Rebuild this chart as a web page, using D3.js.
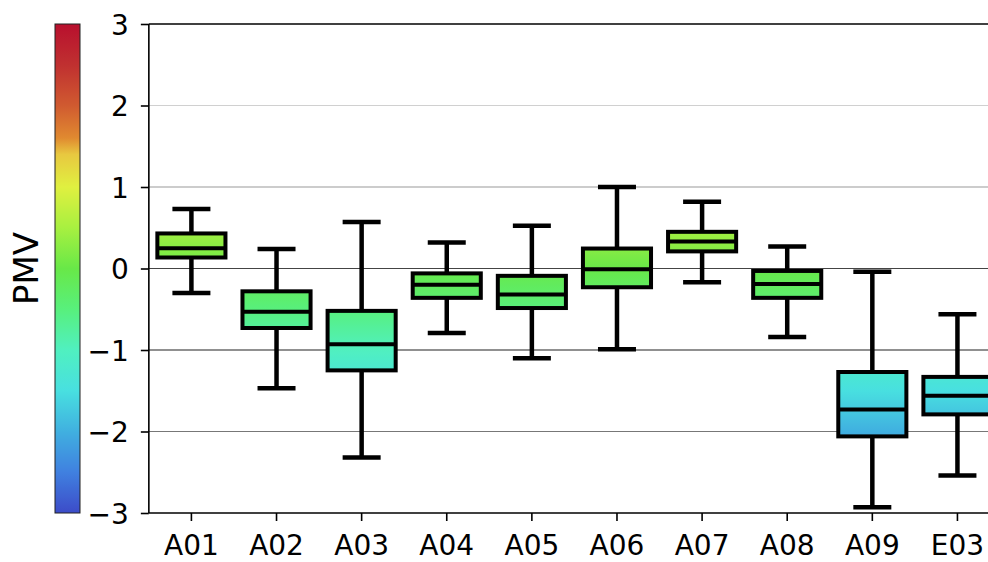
<!DOCTYPE html>
<html>
<head>
<meta charset="utf-8">
<script src="https://cdn.jsdelivr.net/npm/d3@7"></script>
<style>
body { margin: 0; background: #fff; }
text { font-family: "DejaVu Sans", sans-serif; }
</style>
</head>
<body>
<script>
// PMV box plot per room
var rooms = ["A01", "A02", "A03", "A04", "A05", "A06", "A07", "A08", "A09", "E03"];
var whiskerLow = [-0.30, -1.47, -2.32, -0.79, -1.10, -0.99, -0.17, -0.84, -2.93, -2.54];
var q1 = [0.135, -0.73, -1.25, -0.36, -0.485, -0.23, 0.21, -0.36, -2.06, -1.79];
var median = [0.25, -0.53, -0.93, -0.20, -0.32, -0.01, 0.33, -0.19, -1.73, -1.56];
var q3 = [0.43, -0.28, -0.52, -0.06, -0.09, 0.245, 0.45, -0.03, -1.27, -1.33];
var whiskerHigh = [0.73, 0.24, 0.57, 0.32, 0.525, 1.0, 0.82, 0.27, -0.04, -0.56];
var yTicks = [-3, -2, -1, 0, 1, 2, 3];

// colour map stops (PMV value -> colour)
var cmapValues = [-3, -2.5, -2, -1.5, -1, -0.5, 0, 0.5, 1, 1.4, 1.6, 2, 2.5, 3];
var cmapColors = ["#3c4cc8", "#4080e0", "#40b0e0", "#48e0e0", "#50f0c0", "#58f07c", "#68e848",
                  "#a8f040", "#e0f040", "#e8c840", "#e08a30", "#d05a30", "#c03030", "#b8102e"];

var gridColor = {"-2": "#777", "-1": "#222", "0": "#444", "1": "#999", "2": "#d0d0d0"};

var width = 988, height = 562;
var svg = d3.select("body").append("svg").attr("width", width).attr("height", height);
var defs = svg.append("defs");

var plotLeft = 148.85, plotRight = 1000, plotTop = 24, plotBottom = 513;

var color = d3.scaleLinear().domain(cmapValues).range(cmapColors).interpolate(d3.interpolateRgb);
var y = d3.scaleLinear().domain([-3, 3]).range([plotBottom, plotTop]);
var x = d3.scaleBand().domain(rooms).range([plotLeft, plotRight]).padding(0);
var bw = x.bandwidth();
var boxW = bw * 0.8;

// grid
svg.selectAll(".grid").data(yTicks.filter(function (d) { return d > -3 && d < 3; }))
    .enter().append("line")
    .attr("x1", plotLeft).attr("x2", plotRight)
    .attr("y1", function (d) { return y(d); }).attr("y2", function (d) { return y(d); })
    .style("stroke", function (d) { return gridColor[d]; })
    .style("stroke-width", 1.2);

// box gradients
function addGradient(id, lo, hi) {
    var g = defs.append("linearGradient").attr("id", id)
        .attr("gradientUnits", "userSpaceOnUse")
        .attr("x1", 0).attr("x2", 0).attr("y1", y(lo)).attr("y2", y(hi));
    for (var k = 0; k <= 10; k++) {
        var v = lo + (hi - lo) * k / 10;
        g.append("stop").attr("offset", (k * 10) + "%").attr("stop-color", color(v));
    }
}

for (var i = 0; i < rooms.length; i++) {
    var cx = x(rooms[i]) + bw / 2;
    var g = svg.append("g");
    // whiskers
    g.append("line").attr("x1", cx).attr("x2", cx).attr("y1", y(q3[i])).attr("y2", y(whiskerHigh[i]))
        .style("stroke", "#000").style("stroke-width", 4.5);
    g.append("line").attr("x1", cx).attr("x2", cx).attr("y1", y(q1[i])).attr("y2", y(whiskerLow[i]))
        .style("stroke", "#000").style("stroke-width", 4.5);
    // caps
    [whiskerHigh[i], whiskerLow[i]].forEach(function (v) {
        g.append("line").attr("x1", cx - 19).attr("x2", cx + 19).attr("y1", y(v)).attr("y2", y(v))
            .style("stroke", "#000").style("stroke-width", 4.5);
    });
    // box
    addGradient("grad" + i, q1[i], q3[i]);
    g.append("rect").attr("x", cx - boxW / 2).attr("width", boxW)
        .attr("y", y(q3[i])).attr("height", y(q1[i]) - y(q3[i]))
        .style("fill", "url(#grad" + i + ")")
        .style("stroke", "#000").style("stroke-width", 4);
    // median
    g.append("line").attr("x1", cx - boxW / 2).attr("x2", cx + boxW / 2)
        .attr("y1", y(median[i])).attr("y2", y(median[i]))
        .style("stroke", "#000").style("stroke-width", 4);
}

// spines
svg.append("line").attr("x1", plotLeft).attr("x2", plotRight).attr("y1", plotTop).attr("y2", plotTop)
    .style("stroke", "#000").style("stroke-width", 1.6);
svg.append("line").attr("x1", plotLeft).attr("x2", plotRight).attr("y1", plotBottom).attr("y2", plotBottom)
    .style("stroke", "#000").style("stroke-width", 1.6);
svg.append("line").attr("x1", plotLeft).attr("x2", plotLeft).attr("y1", plotTop).attr("y2", plotBottom)
    .style("stroke", "#000").style("stroke-width", 1.6);

// y axis
var yAxis = svg.append("g").attr("transform", "translate(" + plotLeft + ",0)")
    .call(d3.axisLeft(y).tickValues(yTicks).tickSize(8).tickPadding(12)
        .tickFormat(function (d) { return d < 0 ? "\u2212" + Math.abs(d) : d; }));
yAxis.select(".domain").remove();
yAxis.selectAll(".tick line").style("stroke", "#000").style("stroke-width", 1.6);
yAxis.selectAll(".tick text").style("font-size", "28px").style("fill", "#000")
    .attr("font-family", "DejaVu Sans").attr("dy", "0.36em");

// x axis
var xAxis = svg.append("g").attr("transform", "translate(0," + plotBottom + ")")
    .call(d3.axisBottom(x).tickSize(8).tickPadding(14));
xAxis.select(".domain").remove();
xAxis.selectAll(".tick line").style("stroke", "#000").style("stroke-width", 1.6);
xAxis.selectAll(".tick text").style("font-size", "28px").style("fill", "#000")
    .attr("font-family", "DejaVu Sans");

// colour bar
var cbGrad = defs.append("linearGradient").attr("id", "cbar")
    .attr("x1", 0).attr("x2", 0).attr("y1", 1).attr("y2", 0);
for (var k = 0; k <= 60; k++) {
    var v = -3 + 6 * k / 60;
    cbGrad.append("stop").attr("offset", (k / 60 * 100) + "%").attr("stop-color", color(v));
}
svg.append("rect").attr("x", 55).attr("y", plotTop).attr("width", 25).attr("height", plotBottom - plotTop)
    .style("fill", "url(#cbar)").style("stroke", "#222").style("stroke-width", 1);

// label
svg.append("text").attr("transform", "translate(38," + y(0) + ") rotate(-90)")
    .attr("text-anchor", "middle")
    .style("font-size", "34px").style("fill", "#000")
    .text("PMV");
</script>
</body>
</html>
